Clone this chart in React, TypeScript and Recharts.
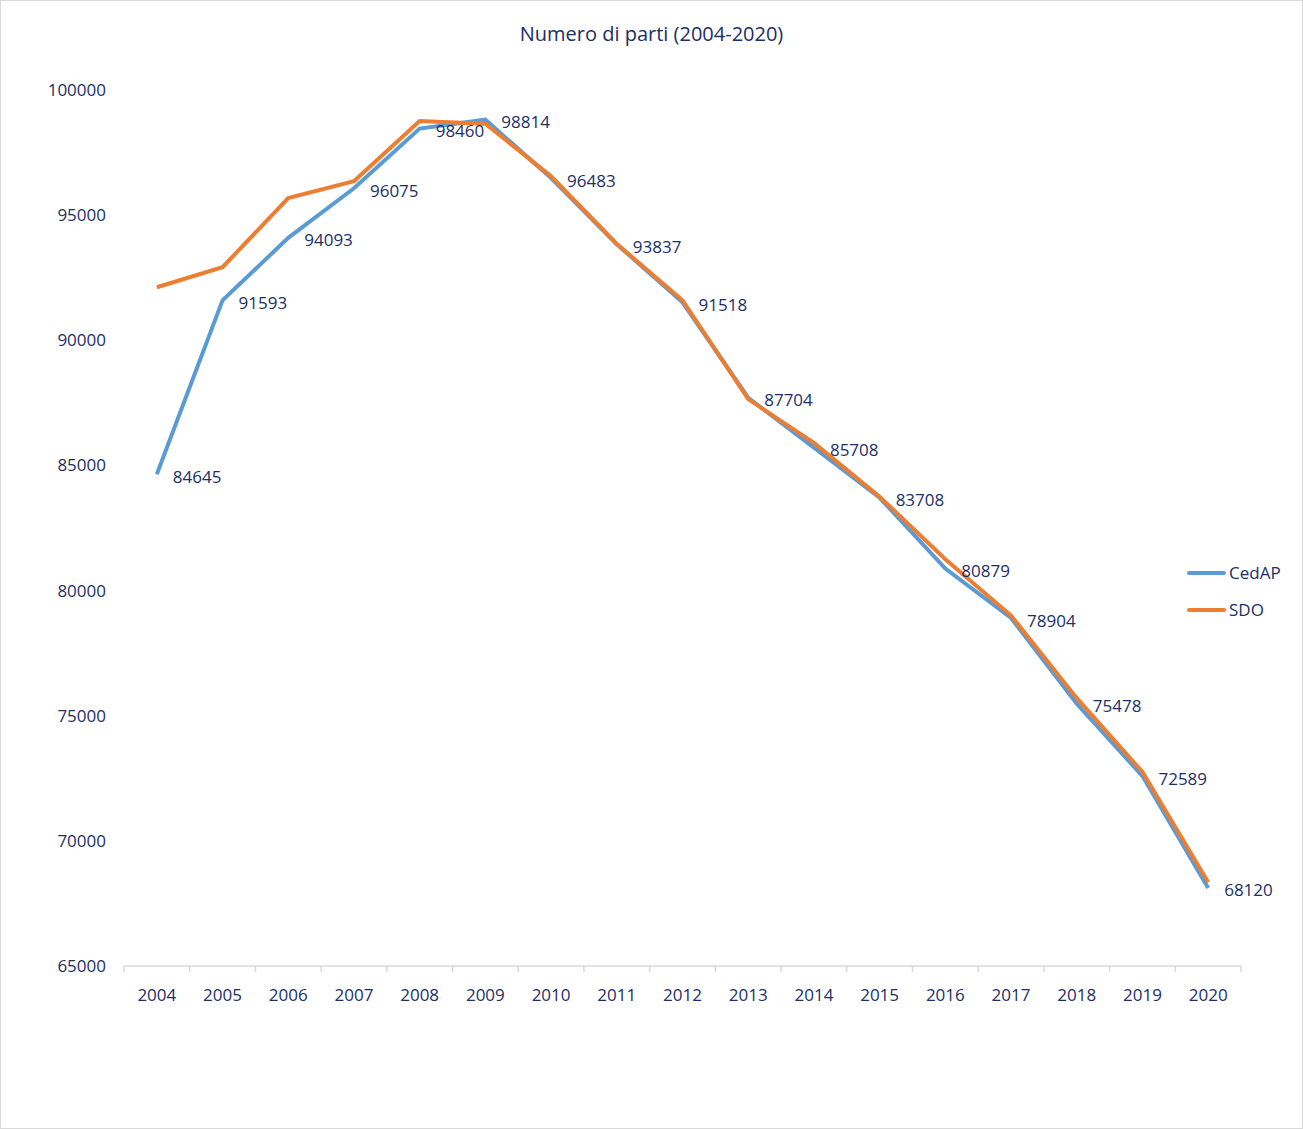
import { LabelList, Line, LineChart, XAxis, YAxis } from 'recharts';

const years = ['2004', '2005', '2006', '2007', '2008', '2009', '2010', '2011', '2012', '2013', '2014', '2015', '2016', '2017', '2018', '2019', '2020'];
const cedap = [84645, 91593, 94093, 96075, 98460, 98814, 96483, 93837, 91518, 87704, 85708, 83708, 80879, 78904, 75478, 72589, 68120];
const sdo = [92120, 92920, 95680, 96360, 98760, 98650, 96550, 93850, 91600, 87650, 85900, 83750, 81250, 79000, 75700, 72750, 68350];
const yTicks = [65000, 70000, 75000, 80000, 85000, 90000, 95000, 100000];

const data = years.map((y, i) => ({ year: y, CedAP: cedap[i], SDO: sdo[i] }));

const TEXT = '#1c2f66';
const FONT = '"Open Sans", sans-serif';
const BLUE = '#5b9bd5';
const ORANGE = '#ed7d31';
const BAND = (1240 - 124) / years.length;

function YearTick(props: any) {
  const { x, y, payload, index } = props;
  const left = x - BAND / 2;
  const axisY = y - 8;
  return (
    <g>
      <line x1={left} x2={left} y1={axisY} y2={axisY + 6} stroke="#d9d9d9" strokeWidth={1.5} />
      {index === years.length - 1 && (
        <line x1={left + BAND} x2={left + BAND} y1={axisY} y2={axisY + 6} stroke="#d9d9d9" strokeWidth={1.5} />
      )}
      <text x={x} y={axisY + 28} textAnchor="middle" dominantBaseline="central" fill={TEXT} fontSize={17} fontFamily={FONT}>
        {payload.value}
      </text>
    </g>
  );
}

function PointLabel(props: any) {
  const { x, y, value } = props;
  return (
    <text x={x + 16} y={y + 2} dominantBaseline="central" fill={TEXT} fontSize={17} fontFamily={FONT}>
      {value}
    </text>
  );
}

const legendItems = [
  { name: 'CedAP', color: BLUE },
  { name: 'SDO', color: ORANGE },
];

export default function App() {
  return (
    <div style={{ position: 'relative', width: 1303, height: 1129, boxSizing: 'border-box', border: '1px solid #d9d9d9', background: '#fff' }}>
      <style>{'body{margin:0}'}</style>
      <div
        style={{
          position: 'absolute',
          top: 19,
          left: 0,
          width: '100%',
          textAlign: 'center',
          fontFamily: FONT,
          fontSize: 20,
          color: TEXT,
        }}
      >
        Numero di parti (2004-2020)
      </div>
      <LineChart width={1301} height={1127} data={data} margin={{ top: 89, right: 61, left: 0, bottom: 132 }} style={{ position: 'absolute', top: 0, left: 0 }}>
        <XAxis
          dataKey="year"
          height={30}
          axisLine={{ stroke: '#d9d9d9', strokeWidth: 1.5 }}
          tickLine={false}
          tick={<YearTick />}
          interval={0}
          padding={{ left: BAND / 2, right: BAND / 2 }}
        />
        <YAxis
          domain={[65000, 100000]}
          ticks={yTicks}
          width={123}
          axisLine={false}
          tickLine={false}
          tick={{ fill: TEXT, fontSize: 17, fontFamily: FONT, dx: -10 }}
        />
        <Line type="linear" dataKey="CedAP" stroke={BLUE} strokeWidth={4} dot={false} isAnimationActive={false} />
        <Line type="linear" dataKey="SDO" stroke={ORANGE} strokeWidth={4} dot={false} isAnimationActive={false} />
        <Line type="linear" dataKey="CedAP" stroke="none" dot={false} legendType="none" isAnimationActive={false}>
          <LabelList dataKey="CedAP" content={<PointLabel />} />
        </Line>
      </LineChart>
      <div style={{ position: 'absolute', top: 553, left: 1186, fontFamily: FONT, fontSize: 17, color: TEXT }}>
        {legendItems.map((it) => (
          <div key={it.name} style={{ display: 'flex', alignItems: 'center', height: 37 }}>
            <span style={{ display: 'inline-block', width: 39, height: 4, borderRadius: 2, background: it.color, marginRight: 3 }} />
            <span>{it.name}</span>
          </div>
        ))}
      </div>
    </div>
  );
}
